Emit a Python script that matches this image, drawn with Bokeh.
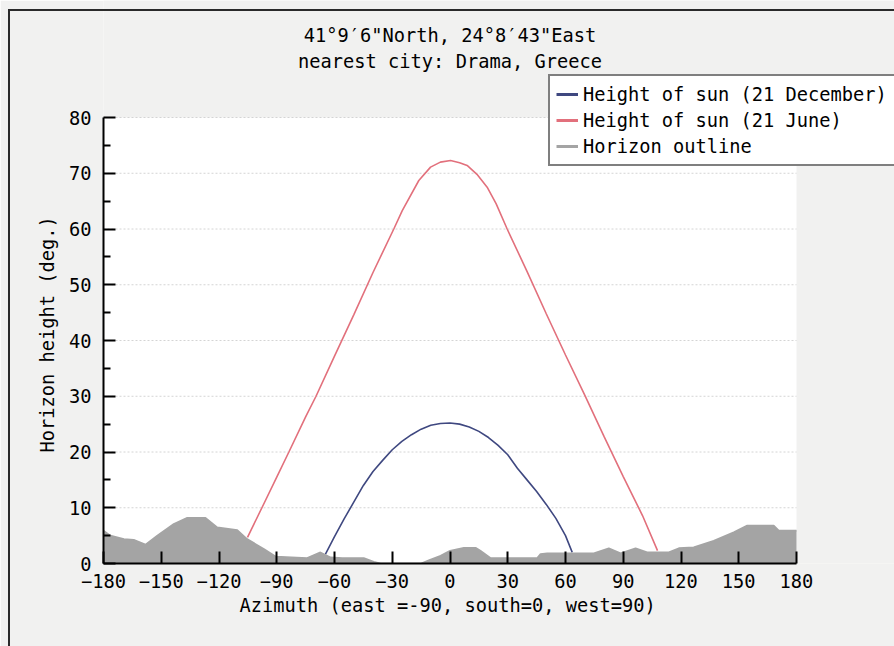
from bokeh.plotting import figure
from bokeh.models import (Label, Legend, LegendItem, FixedTicker, Range1d, Title,
                          InlineStyleSheet)
from bokeh.embed import file_html
from bokeh.resources import INLINE

# ---------------- data ----------------
title_line1 = "41°9′6\"North, 24°8′43\"East"
title_line2 = "nearest city: Drama, Greece"
x_label = "Azimuth (east =-90, south=0, west=90)"
y_label = "Horizon height (deg.)"

dec_az = [-64.7, -60, -55, -50, -45, -40, -35, -30, -25, -20, -15, -10, -5, 0,
          5, 10, 15, 20, 25, 30, 35, 40, 45, 50, 55, 60, 63.5]
dec_el = [1.7, 4.8, 8.0, 11.0, 14.0, 16.5, 18.5, 20.4, 21.9, 23.1, 24.1, 24.8, 25.1, 25.2,
          25.0, 24.5, 23.7, 22.6, 21.2, 19.5, 17.1, 15.0, 12.9, 10.6, 8.1, 5.0, 2.0]

jun_az = [-105.2, -97.7, -90, -83.7, -75, -69.6, -60, -50, -40, -29.2, -24.8, -16.2,
          -10.1, -5, 0.3, 5, 8.9, 14, 19.3, 24, 29.7, 40, 50, 60, 70, 80, 90, 100, 107.8]
jun_el = [4.7, 10.0, 15.5, 20.0, 26.3, 30.0, 37.2, 44.6, 52.2, 60.0, 63.3, 68.7,
          71.1, 72.0, 72.3, 71.9, 71.4, 69.8, 67.5, 64.5, 60.0, 52.4, 44.8, 37.4, 30.2,
          22.8, 15.6, 8.6, 2.3]

hor_az = [-180, -176.4, -169.4, -164.3, -158.2, -152.1, -143.5, -136.5, -127, -120.9,
          -110.5, -105.4, -96.7, -90.6, -74.2, -67.3, -62, -56, -44.8, -39.6, -36,
          -15, -11, -4.9, 0, 7.2, 13.5, 15.8, 21, 35, 45.3, 47, 50.5, 74.7, 82.5,
          88.6, 96.4, 102.4, 113.7, 118.9, 126.6, 137, 147.4, 154.4, 168.2, 170.8, 180]
hor_el = [5.9, 5.0, 4.4, 4.25, 3.4, 5.0, 7.1, 8.2, 8.2, 6.5,
          6.0, 4.4, 2.6, 1.26, 1.0, 2.0, 1.1, 1.0, 1.0, 0.3, 0.0,
          0.0, 0.6, 1.4, 2.3, 2.8, 2.8, 2.3, 1.0, 1.0, 1.0, 1.7, 1.85, 1.85, 2.75,
          1.85, 2.75, 2.0, 2.0, 2.75, 2.9, 4.1, 5.6, 6.8, 6.8, 5.9, 5.9]

x_ticks = [-180, -150, -120, -90, -60, -30, 0, 30, 60, 90, 120, 150, 180]
y_ticks = [0, 10, 20, 30, 40, 50, 60, 70, 80]
y_minor = [5, 15, 25, 35, 45, 55, 65, 75]

dec_label = "Height of sun (21 December)"
jun_label = "Height of sun (21 June)"
hor_label = "Horizon outline"

# ---------------- styling / layout ----------------
FONT = "DejaVu Sans Mono"
FS = "18.7px"
PAPER = "#f1f1f0"
DEC_COLOR = "#3f4880"
JUN_COLOR = "#e2707c"
HOR_COLOR = "#a4a4a4"

W, H = 894, 646
LEFT, BOTTOM = 103, 83          # plot area left edge / space below the axis
AREA_W, AREA_H = 693, 446       # pixel size of the -180..180 x 0..80 area
FRAME_W = W - LEFT
FRAME_H = H - BOTTOM
x_min, x_max = x_ticks[0], x_ticks[-1]
y_min, y_max = y_ticks[0], y_ticks[-1]
x_end = x_min + FRAME_W * (x_max - x_min) / AREA_W
y_end = y_min + FRAME_H * (y_max - y_min) / AREA_H

p = figure(width=W, height=H, output_backend="svg", toolbar_location=None,
           x_range=Range1d(x_min, x_end), y_range=Range1d(y_min, y_end),
           min_border_left=LEFT, min_border_right=0, min_border_top=0,
           min_border_bottom=BOTTOM)
p.background_fill_color = PAPER
p.border_fill_color = PAPER
p.outline_line_color = None
p.xgrid.grid_line_color = None
p.ygrid.grid_line_color = None

# scanned page border (left and top edge)
p.stylesheets = [InlineStyleSheet(css=(
    ":host::after { content: ''; position: absolute; left: 8px; top: 9px; "
    "right: 0; bottom: 0; border-left: 2px solid #2a2a2a; "
    "border-top: 2px solid #2a2a2a; pointer-events: none; z-index: 50; }"))]

# white plot area
p.quad(left=[x_min], right=[x_max], bottom=[y_min], top=[y_max],
       fill_color="white", line_color=None)
# dotted horizontal grid lines
p.segment(x0=[x_min] * len(y_ticks), x1=[x_max] * len(y_ticks), y0=y_ticks,
          y1=y_ticks, line_color="#d4d4d4", line_dash="2 2", line_width=1)

# curves
r_dec = p.line(dec_az, dec_el, line_color=DEC_COLOR, line_width=1.6)
r_jun = p.line(jun_az, jun_el, line_color=JUN_COLOR, line_width=1.6)
p.varea(x=hor_az, y1=[0] * len(hor_az), y2=hor_el, fill_color=HOR_COLOR)
r_hor = p.line(hor_az, hor_el, line_color=HOR_COLOR, line_width=1.6)

# thicker legend swatches (proxy renderers without visible data)
nan = float("nan")
s_dec = p.line(x=[nan], y=[nan], line_color=DEC_COLOR, line_width=3)
s_jun = p.line(x=[nan], y=[nan], line_color=JUN_COLOR, line_width=3)
s_hor = p.line(x=[nan], y=[nan], line_color=HOR_COLOR, line_width=3)

# axes
for ax in (p.xaxis[0], p.yaxis[0]):
    ax.axis_line_color = "black"
    ax.axis_line_width = 2
    ax.major_tick_line_color = "black"
    ax.major_tick_line_width = 2
    ax.major_tick_in = 12
    ax.major_tick_out = 0
    ax.major_label_text_font = FONT
    ax.major_label_text_font_size = FS
    ax.major_label_text_color = "black"

p.xaxis[0].bounds = (x_min, x_max)
p.xaxis[0].ticker = FixedTicker(ticks=x_ticks)
p.xaxis[0].minor_tick_line_color = None
p.xaxis[0].major_label_standoff = 10

p.yaxis[0].bounds = (y_min, y_max)
p.yaxis[0].ticker = FixedTicker(ticks=y_ticks, minor_ticks=y_minor)
p.yaxis[0].minor_tick_line_color = "black"
p.yaxis[0].minor_tick_line_width = 2
p.yaxis[0].minor_tick_in = 7
p.yaxis[0].minor_tick_out = 0
p.yaxis[0].major_label_standoff = 12

# axis titles placed under / beside the -180..180 / 0..80 area
p.add_layout(Title(text=x_label, align="left", offset=136,
                   standoff=5, text_font=FONT, text_font_size=FS,
                   text_font_style="normal", text_color="black"), "below")
p.add_layout(Title(text=y_label, align="left", offset=111,
                   standoff=16, text_font=FONT, text_font_size=FS,
                   text_font_style="normal", text_color="black"), "left")

# titles (screen units relative to the frame's bottom-left corner)
cx = AREA_W / 2
p.add_layout(Label(x=cx, y=FRAME_H - 35, x_units="screen", y_units="screen",
                   text=title_line1, text_align="center", text_baseline="middle",
                   text_font=FONT, text_font_size=FS, text_color="black"))
p.add_layout(Label(x=cx, y=FRAME_H - 61, x_units="screen", y_units="screen",
                   text=title_line2, text_align="center", text_baseline="middle",
                   text_font=FONT, text_font_size=FS, text_color="black"))

legend = Legend(items=[LegendItem(label=dec_label, renderers=[s_dec]),
                       LegendItem(label=jun_label, renderers=[s_jun]),
                       LegendItem(label=hor_label, renderers=[s_hor])],
                location=(548 - LEFT, FRAME_H - 166))
legend.label_text_font = FONT
legend.label_text_font_size = FS
legend.label_text_color = "black"
legend.glyph_width = 22
legend.glyph_height = 24
legend.label_height = 24
legend.label_width = 330
legend.label_standoff = 5
legend.spacing = 2
legend.padding = 6
legend.margin = 0
legend.border_line_color = "black"
legend.border_line_width = 2
legend.background_fill_color = "white"
legend.background_fill_alpha = 1
p.add_layout(legend, "center")

open("out.html", "w").write(file_html(p, INLINE))
